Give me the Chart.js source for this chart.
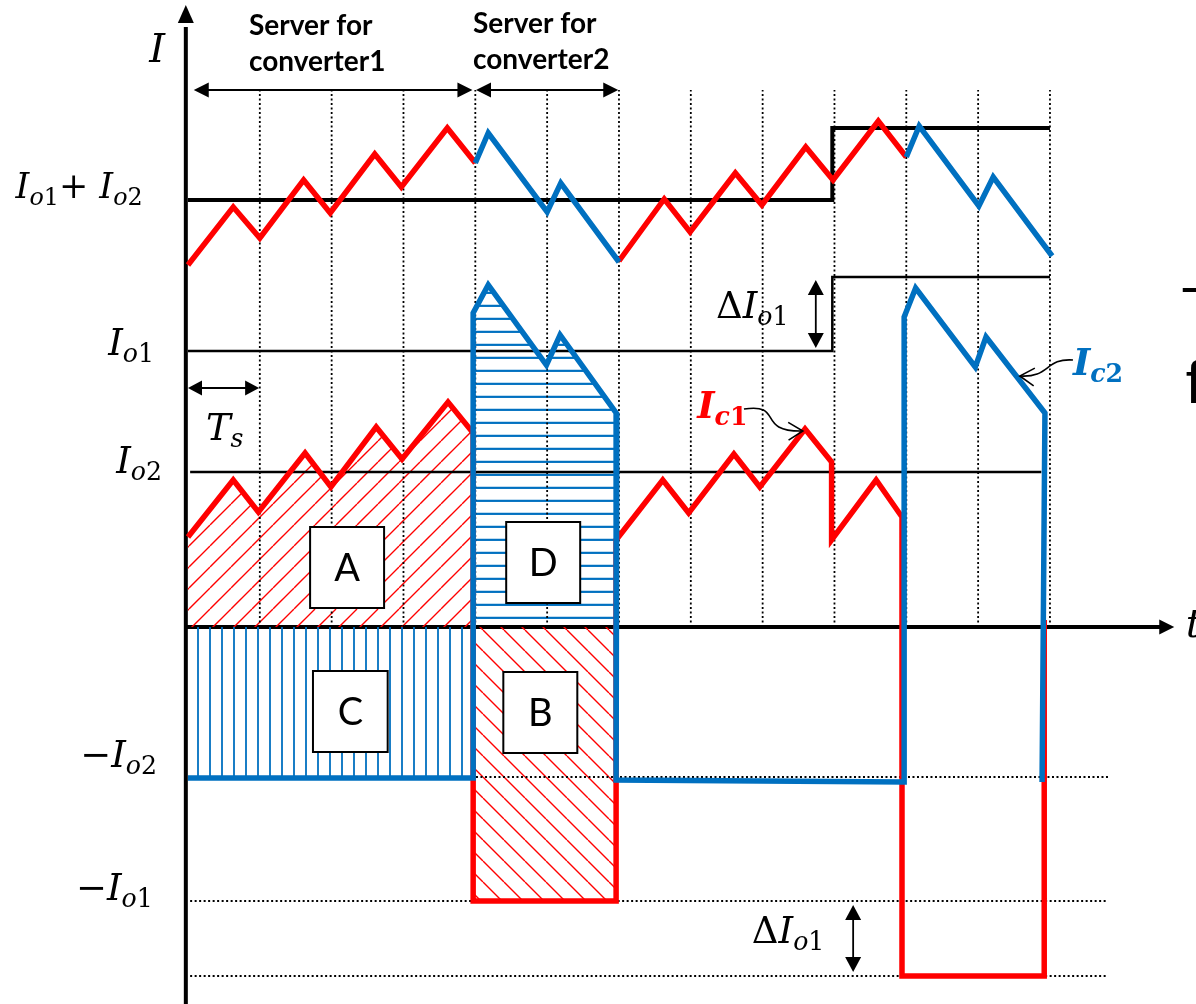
<!DOCTYPE html>
<html><head><meta charset="utf-8">
<script src="https://cdn.jsdelivr.net/npm/chart.js@4/dist/chart.umd.min.js"></script>
<style>html,body{margin:0;padding:0;background:#fff;overflow:hidden}#wrap{width:1196px;height:1004px}</style>
</head><body><div id="wrap"><canvas id="c" width="1196" height="1004"></canvas></div>
<script>
// ---------- values (t in switching periods Ts, I in arbitrary units) ----------
const gridTimes = [1, 2, 3, 4, 5, 6, 7, 8, 9, 10, 11, 12];
const stepTime = 8.97;
const sumLevels = [4.27, 4.99];        // Io1+Io2 before / after the load step
const io1Levels = [2.76, 3.50];        // Io1 before / after the load step
const io2Level = [1.55];
const negLevels = [-1.50, -2.74, -3.49]; // -Io2, -Io1, -(Io1+dIo1)

// total current: alternating red (converter1) / blue (converter2) segments
const sumRed1  = [[0,3.62],[0.63,4.20],[1.00,3.89],[1.61,4.47],[1.98,4.14],[2.60,4.73],[2.97,4.40],[3.61,4.99],[4.00,4.64]];
const sumBlue1 = [[4.00,4.64],[4.18,4.94],[5.00,4.15],[5.19,4.44],[6.00,3.65]];
const sumRed2  = [[6.00,3.66],[6.63,4.28],[6.99,3.95],[7.62,4.54],[7.99,4.22],[8.60,4.80],[8.98,4.47],[9.61,5.06],[10.00,4.70]];
const sumBlue2 = [[10.00,4.70],[10.18,5.01],[11.01,4.21],[11.21,4.50],[12.03,3.71]];

// capacitor current Ic1 (red)
const ic1 = [[0,0.90],[0.63,1.47],[0.98,1.15],[1.63,1.74],[1.99,1.40],[2.62,2.00],[2.98,1.68],[3.62,2.25],[3.97,1.94],
             [3.97,-2.74],[5.96,-2.74],[5.96,0.87],[6.61,1.47],[6.97,1.14],[7.60,1.73],[7.96,1.40],[8.59,1.98],[8.96,1.65],
             [8.96,0.87],[9.58,1.47],[9.94,1.10],[9.94,-3.49],[11.92,-3.49],[11.92,0.07]];
// capacitor current Ic2 (blue)
const ic2 = [[0,-1.51],[3.97,-1.51],[3.97,3.14],[4.18,3.42],[4.99,2.62],[5.18,2.92],[5.97,2.13],[5.96,-1.53],
             [9.97,-1.55],[9.97,3.10],[10.13,3.39],[10.96,2.60],[11.11,2.90],[11.93,2.14],[11.89,-1.55]];

// ---------- layout ----------
const X_MIN = -2.617, X_MAX = 14.033, Y_MIN = -3.77, Y_MAX = 6.27;
const RED = '#ff0000', BLUE = '#0070c0';
const MATH = '"DejaVu Serif"';

function hatch(kind, color, lw, w, h) {
  const c = document.createElement('canvas'); c.width = w; c.height = h;
  const g = c.getContext('2d'); g.strokeStyle = color; g.lineWidth = lw; g.beginPath();
  if (kind === '/') { for (let k = -1; k <= 1; k++) { g.moveTo(k*w, h); g.lineTo(k*w + w, 0); } }
  else if (kind === '\\') { for (let k = -1; k <= 1; k++) { g.moveTo(k*w, 0); g.lineTo(k*w + w, h); } }
  else if (kind === '|') { g.moveTo(w/2, 0); g.lineTo(w/2, h); }
  else { g.moveTo(0, h/2); g.lineTo(w, h/2); }
  g.stroke();
  return g.createPattern(c, 'repeat');
}
const patA = hatch('/', RED, 1.4, 21, 21);
const patB = hatch('\\', RED, 1.4, 21, 21);
const patC = hatch('|', BLUE, 1.8, 12, 4);
const patD = hatch('-', BLUE, 2.2, 4, 13.7);

const pts = a => a.map(p => ({x: p[0], y: p[1]}));
function lineDs(data, color, width, order, extra) {
  return Object.assign({type: 'line', data: pts(data), borderColor: color, borderWidth: width, pointRadius: 0,
    pointHoverRadius: 0, fill: false, order: order, tension: 0, borderJoinStyle: 'miter', borderCapStyle: 'butt', clip: false}, extra || {});
}
function fillDs(data, pattern) {
  return lineDs(data, 'rgba(0,0,0,0)', 0, 100, {fill: 'origin', backgroundColor: pattern});
}

const datasets = [];
// hatched areas A, C, D, B
datasets.push(fillDs(ic1.slice(0, 9), patA));
datasets.push(fillDs(ic2.slice(0, 2), patC));
datasets.push(fillDs(ic2.slice(2, 7), patD));
datasets.push(fillDs(ic1.slice(9, 11), patB));
// dotted period grid
gridTimes.forEach(t => datasets.push(lineDs([[t, 0], [t, 5.37]], '#000', 1.8, 90, {borderDash: [2, 2.5]})));
// dotted negative reference levels
negLevels.forEach((v, i) => datasets.push(lineDs([[i === 0 ? 0 : 0.03, v], [12.81, v]], '#000', 1.8, 85, {borderDash: [2, 2.5]})));
// solid reference levels
datasets.push(lineDs([[0, sumLevels[0]], [stepTime, sumLevels[0]], [stepTime, sumLevels[1]], [12, sumLevels[1]]], '#000', 4, 80));
datasets.push(lineDs([[0, io1Levels[0]], [stepTime, io1Levels[0]], [stepTime, io1Levels[1]], [12, io1Levels[1]]], '#000', 2.5, 80));
datasets.push(lineDs([[0.03, io2Level[0]], [11.88, io2Level[0]]], '#000', 2.5, 80));
// currents
datasets.push(lineDs(ic1, RED, 5.5, 20));
datasets.push(lineDs(ic2, BLUE, 5.5, 10));
datasets.push(lineDs(sumRed1, RED, 5.5, 20));
datasets.push(lineDs(sumRed2, RED, 5.5, 20));
datasets.push(lineDs(sumBlue1, BLUE, 5.5, 10));
datasets.push(lineDs(sumBlue2, BLUE, 5.5, 10));

// ---------- drawing helpers ----------
function tri(ctx, tx, ty, ang, len, hw) {
  const bx = tx - Math.cos(ang)*len, by = ty - Math.sin(ang)*len;
  const nx = -Math.sin(ang)*hw, ny = Math.cos(ang)*hw;
  ctx.beginPath(); ctx.moveTo(tx, ty); ctx.lineTo(bx + nx, by + ny); ctx.lineTo(bx - nx, by - ny); ctx.closePath(); ctx.fill();
}
function dblArrow(ctx, x1, y1, x2, y2, len, hw, lw) {
  const ang = Math.atan2(y2 - y1, x2 - x1);
  ctx.lineWidth = lw;
  ctx.beginPath();
  ctx.moveTo(x1 + Math.cos(ang)*len*0.7, y1 + Math.sin(ang)*len*0.7);
  ctx.lineTo(x2 - Math.cos(ang)*len*0.7, y2 - Math.sin(ang)*len*0.7);
  ctx.stroke();
  tri(ctx, x2, y2, ang, len, hw); tri(ctx, x1, y1, ang + Math.PI, len, hw);
}
function chevron(ctx, tx, ty, ang, len, spread) {
  ctx.beginPath();
  ctx.moveTo(tx - Math.cos(ang - spread)*len, ty - Math.sin(ang - spread)*len);
  ctx.lineTo(tx, ty);
  ctx.lineTo(tx - Math.cos(ang + spread)*len, ty - Math.sin(ang + spread)*len);
  ctx.stroke();
}
function mtext(ctx, x, y, parts, size, color, bold) {
  let cx = x;
  ctx.fillStyle = color; ctx.textAlign = 'left'; ctx.textBaseline = 'alphabetic';
  for (const [s, st] of parts) {
    const sub = st.indexOf('s') >= 0, it = st.indexOf('i') >= 0;
    const fs = sub ? size*0.68 : size;
    ctx.font = (it ? 'italic ' : '') + (bold ? 'bold ' : '') + fs.toFixed(1) + 'px ' + MATH;
    ctx.fillText(s, cx, y + (sub ? size*0.2 : 0));
    cx += ctx.measureText(s).width;
  }
}
const Io = d => [['I', 'i'], ['o', 'si'], [d, 's']];

const decor = {
  id: 'decor',
  beforeDatasetsDraw(chart) {
    const {ctx, scales: {x, y}} = chart;
    const X = v => x.getPixelForValue(v), Y = v => y.getPixelForValue(v);
    ctx.save();
    ctx.strokeStyle = '#000'; ctx.fillStyle = '#000'; ctx.lineWidth = 4;
    const ax = X(-0.03), ay = Y(0);
    ctx.beginPath(); ctx.moveTo(ax, Y(Y_MIN)); ctx.lineTo(ax, Y(6.0)); ctx.stroke();
    tri(ctx, ax, Y(6.22), -Math.PI/2, 18, 8);
    ctx.beginPath(); ctx.moveTo(X(-0.03), ay); ctx.lineTo(X(13.55), ay); ctx.stroke();
    tri(ctx, X(13.73), ay, 0, 15, 7.5);
    ctx.restore();
  },
  afterDatasetsDraw(chart) {
    const {ctx, scales: {x, y}} = chart;
    const X = v => x.getPixelForValue(v), Y = v => y.getPixelForValue(v);
    ctx.save();
    ctx.strokeStyle = '#000'; ctx.fillStyle = '#000';
    // double arrows
    dblArrow(ctx, X(0.08), Y(5.37), X(3.96), Y(5.37), 15, 7.5, 1.8);
    dblArrow(ctx, X(4.01), Y(5.37), X(5.99), Y(5.37), 15, 7.5, 1.8);
    dblArrow(ctx, X(0.0), Y(2.39), X(0.99), Y(2.39), 14, 7.5, 1.8);
    dblArrow(ctx, X(8.74), Y(3.47), X(8.74), Y(2.79), 15, 8, 1.8);
    dblArrow(ctx, X(9.26), Y(-2.78), X(9.26), Y(-3.45), 15, 8, 1.8);
    // curved pointer arrows
    ctx.lineWidth = 1.6;
    ctx.beginPath(); ctx.moveTo(X(7.74), Y(2.18));
    ctx.bezierCurveTo(X(8.31), Y(2.24), X(7.89), Y(1.95), X(8.56), Y(1.96)); ctx.stroke();
    chevron(ctx, X(8.56), Y(1.96), Math.atan2(Y(1.96) - Y(1.95), X(8.56) - X(7.89)), 17, 0.55);
    ctx.beginPath(); ctx.moveTo(X(12.32), Y(2.67));
    ctx.bezierCurveTo(X(11.93), Y(2.69), X(12.0), Y(2.49), X(11.58), Y(2.51)); ctx.stroke();
    chevron(ctx, X(11.58), Y(2.51), Math.atan2(Y(2.51) - Y(2.49), X(11.58) - X(12.0)), 17, 0.55);
    // labelled boxes
    const boxes = [['A', 1.70, 1.00, 2.73, 0.19], ['D', 4.43, 1.05, 5.46, 0.24], ['C', 1.74, -0.44, 2.78, -1.25], ['B', 4.39, -0.45, 5.42, -1.26]];
    boxes.forEach(([lab, t1, v1, t2, v2]) => {
      const bx = X(t1), by = Y(v1), bw = X(t2) - X(t1), bh = Y(v2) - Y(v1);
      ctx.fillStyle = '#fff'; ctx.fillRect(bx, by, bw, bh);
      ctx.lineWidth = 2; ctx.strokeStyle = '#000'; ctx.strokeRect(bx, by, bw, bh);
      ctx.fillStyle = '#000'; ctx.font = '38px Lato'; ctx.textAlign = 'center'; ctx.textBaseline = 'middle';
      ctx.fillText(lab, bx + bw/2, by + bh/2 + 1);
    });
    // headings
    ctx.fillStyle = '#000'; ctx.font = 'bold 28px Lato'; ctx.textAlign = 'left'; ctx.textBaseline = 'alphabetic';
    ctx.fillText('Server for', X(0.849), Y(5.92));
    ctx.fillText('converter1', X(0.849), Y(5.56));
    ctx.fillText('Server for', X(3.968), Y(5.94));
    ctx.fillText('converter2', X(3.968), Y(5.58));
    // math labels
    mtext(ctx, X(-0.54), Y(5.65), [['I', 'i']], 40, '#000');
    mtext(ctx, X(-2.40), Y(4.29), Io('1').concat([['+ ', '']], Io('2')), 35, '#000');
    mtext(ctx, X(-1.11), Y(2.72), Io('1'), 37, '#000');
    mtext(ctx, X(0.25), Y(1.87), [['T', 'i'], ['s', 'si']], 37, '#000');
    mtext(ctx, X(-1.00), Y(1.54), Io('2'), 37, '#000');
    mtext(ctx, X(-1.50), Y(-1.40), [['\u2212', '']].concat(Io('2')), 37, '#000');
    mtext(ctx, X(-1.56), Y(-2.73), [['\u2212', '']].concat(Io('1')), 37, '#000');
    mtext(ctx, X(7.35), Y(3.09), [['\u0394', '']].concat(Io('1')), 37, '#000');
    mtext(ctx, X(7.85), Y(-3.16), [['\u0394', '']].concat(Io('1')), 37, '#000');
    mtext(ctx, X(7.09), Y(2.09), [['I', 'i'], ['c', 'si'], ['1', 's']], 37, RED, true);
    mtext(ctx, X(12.32), Y(2.52), [['I', 'i'], ['c', 'si'], ['2', 's']], 37, BLUE, true);
    mtext(ctx, X(13.89), Y(-0.10), [['t', 'i']], 40, '#000');
    // text fragments cut by the right border
    ctx.fillStyle = '#000'; ctx.font = '60px "Liberation Sans"'; ctx.textAlign = 'left';
    ctx.fillText('\u2013', X(13.85), Y(3.22));
    ctx.fillText('f', X(13.89), Y(2.24));
    ctx.restore();
  }
};

new Chart(document.getElementById('c'), {
  type: 'line',
  data: {datasets: datasets},
  options: {
    responsive: false, animation: false, devicePixelRatio: 1, events: [],
    layout: {padding: 0},
    plugins: {legend: {display: false}, tooltip: {enabled: false}, title: {display: false}},
    scales: {
      x: {type: 'linear', display: false, min: X_MIN, max: X_MAX},
      y: {type: 'linear', display: false, min: Y_MIN, max: Y_MAX}
    }
  },
  plugins: [decor]
});
</script></body></html>
